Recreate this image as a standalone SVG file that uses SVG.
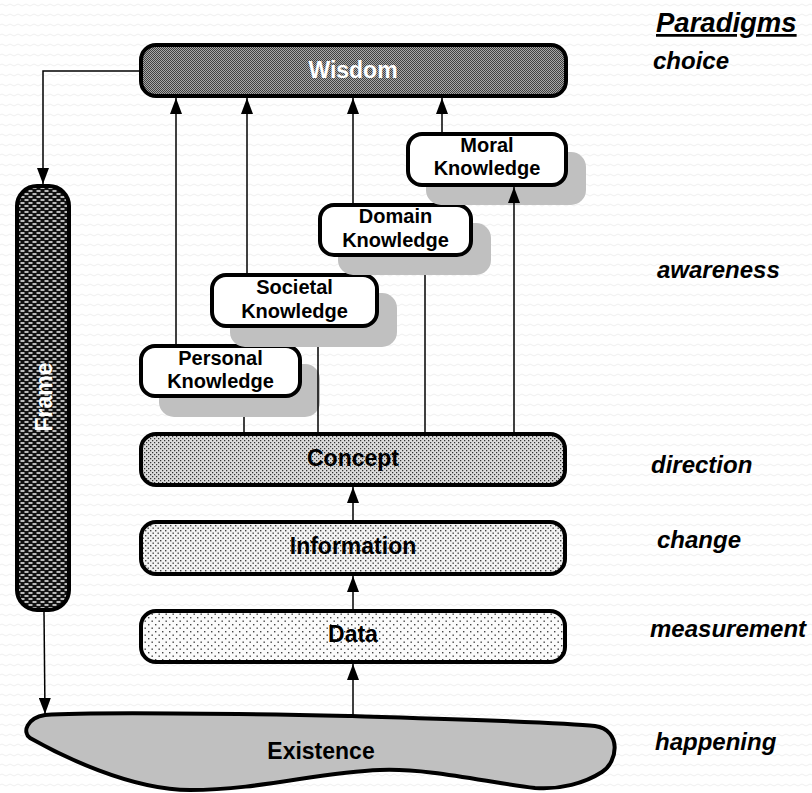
<svg xmlns="http://www.w3.org/2000/svg" width="812" height="793" viewBox="0 0 812 793">
  <style>
    text { font-family: "Liberation Sans", Arial, sans-serif; font-weight: bold; }
    .box { stroke: #000; stroke-width: 4; }
    .kbox { fill: #fff; stroke: #000; stroke-width: 4; }
    .shadow { fill: #c0c0c0; stroke: none; }
    .big { font-size: 23px; text-anchor: middle; }
    .k { font-size: 20px; text-anchor: middle; fill: #000; }
    .para { font-size: 24px; font-style: italic; fill: #000; }
    .conn { fill: none; stroke: #000; stroke-width: 1.5; }
  </style>
  <defs>
    <marker id="arr" markerUnits="userSpaceOnUse" markerWidth="16" markerHeight="12" refX="16" refY="6" orient="auto">
      <path d="M0,0 L16,6 L0,12 Z" fill="#000"/>
    </marker>
    <pattern id="bg" width="8" height="10" patternUnits="userSpaceOnUse">
      <rect width="8" height="10" fill="#fff"/>
      <path d="M0 5 Q2 3 4 5 T8 5" fill="none" stroke="#efefef" stroke-width="1"/>
    </pattern>
    <pattern id="pWisdom" width="2" height="2" patternUnits="userSpaceOnUse">
      <rect width="2" height="2" fill="#a8a8a8"/>
      <rect width="1" height="1" fill="#404040"/>
      <rect x="1" y="1" width="1" height="1" fill="#404040"/>
    </pattern>
    <pattern id="pFrame" width="8" height="6" patternUnits="userSpaceOnUse">
      <rect width="8" height="6" fill="#111"/>
      <rect x="0.5" y="1" width="4" height="2" fill="#bbb"/>
      <rect x="4.5" y="4" width="3.5" height="2" fill="#bbb"/>
      <rect x="0" y="4" width="0.5" height="2" fill="#bbb"/>
    </pattern>
    <pattern id="pConcept" width="4" height="4" patternUnits="userSpaceOnUse">
      <rect width="4" height="4" fill="#dcdcdc"/>
      <rect x="0" y="0" width="1.25" height="1.25" fill="#333"/>
      <rect x="2" y="2" width="1.25" height="1.25" fill="#333"/>
    </pattern>
    <pattern id="pInfo" width="5" height="5" patternUnits="userSpaceOnUse">
      <rect width="5" height="5" fill="#f2f2f2"/>
      <rect x="0" y="0" width="1.4" height="1.4" fill="#444"/>
      <rect x="2.5" y="2.5" width="1.4" height="1.4" fill="#444"/>
    </pattern>
    <pattern id="pData" width="7" height="7" patternUnits="userSpaceOnUse">
      <rect width="7" height="7" fill="#fbfbfb"/>
      <rect x="1" y="1" width="1.4" height="1.4" fill="#444"/>
      <rect x="4.5" y="4.5" width="1.4" height="1.4" fill="#444"/>
    </pattern>
  </defs>

  <rect width="812" height="793" fill="url(#bg)"/>

  <g id="wisdom">
    <rect class="box" x="141" y="45" width="425" height="51" rx="15" fill="url(#pWisdom)"/>
    <text class="big" x="353" y="78" fill="#fff">Wisdom</text>
  </g>

  <g id="frame">
    <rect class="box" x="17" y="186" width="52" height="424" rx="20" fill="url(#pFrame)"/>
    <text class="big" x="0" y="0" fill="#fff" transform="translate(52,397) rotate(-90)">Frame</text>
  </g>

  <g id="personal-knowledge">
    <rect class="shadow" x="159" y="364" width="161" height="53" rx="15"/>
    <rect class="kbox" x="141" y="346" width="159" height="50" rx="14"/>
    <text class="k" x="220.5" y="365">Personal</text>
    <text class="k" x="220.5" y="388">Knowledge</text>
  </g>

  <g id="societal-knowledge">
    <rect class="shadow" x="230" y="293" width="167" height="54" rx="15"/>
    <rect class="kbox" x="212" y="275" width="165" height="51" rx="14"/>
    <text class="k" x="294.5" y="294">Societal</text>
    <text class="k" x="294.5" y="318">Knowledge</text>
  </g>

  <g id="domain-knowledge">
    <rect class="shadow" x="338" y="223" width="153" height="52" rx="15"/>
    <rect class="kbox" x="320" y="205" width="151" height="50" rx="14"/>
    <text class="k" x="395.5" y="223">Domain</text>
    <text class="k" x="395.5" y="247">Knowledge</text>
  </g>

  <g id="moral-knowledge">
    <rect class="shadow" x="426" y="152" width="160" height="53" rx="15"/>
    <rect class="kbox" x="408" y="134" width="158" height="51" rx="14"/>
    <text class="k" x="487" y="152">Moral</text>
    <text class="k" x="487" y="175">Knowledge</text>
  </g>

  <g id="concept">
    <rect class="box" x="141" y="434" width="424" height="51" rx="15" fill="url(#pConcept)"/>
    <text class="big" x="353" y="466" fill="#000">Concept</text>
  </g>

  <g id="information">
    <rect class="box" x="141" y="522" width="424" height="52" rx="15" fill="url(#pInfo)"/>
    <text class="big" x="353" y="554" fill="#000">Information</text>
  </g>

  <g id="data">
    <rect class="box" x="141" y="611" width="424" height="51" rx="15" fill="url(#pData)"/>
    <text class="big" x="353" y="642" fill="#000">Data</text>
  </g>

  <g id="existence">
    <path d="M45 715 C100 711 250 714 352 716 C450 719 560 722 595 726 C622 730 618 762 602 772 C585 783 560 790 535 788 C490 783 430 768 380 770 C320 772 260 790 190 790 C130 790 60 755 30 738 C22 732 27 718 45 715 Z" fill="#c0c0c0" stroke="#000" stroke-width="4"/>
    <text class="big" x="321" y="759" fill="#000">Existence</text>
  </g>

  <g id="connectors">
    <polyline class="conn" points="139,71 43,71 43,184" marker-end="url(#arr)"/>
    <line class="conn" x1="44" y1="612" x2="45" y2="714" marker-end="url(#arr)"/>
    <line class="conn" x1="176" y1="344" x2="176" y2="98" marker-end="url(#arr)"/>
    <line class="conn" x1="247" y1="273" x2="247" y2="98" marker-end="url(#arr)"/>
    <line class="conn" x1="353" y1="203" x2="353" y2="98" marker-end="url(#arr)"/>
    <line class="conn" x1="442" y1="132" x2="442" y2="98" marker-end="url(#arr)"/>
    <line class="conn" x1="244" y1="432" x2="244" y2="417"/>
    <line class="conn" x1="318" y1="432" x2="318" y2="347"/>
    <line class="conn" x1="425" y1="432" x2="425" y2="275"/>
    <line class="conn" x1="514" y1="432" x2="514" y2="187" marker-end="url(#arr)"/>
    <line class="conn" x1="353" y1="520" x2="353" y2="487" marker-end="url(#arr)"/>
    <line class="conn" x1="353" y1="609" x2="353" y2="576" marker-end="url(#arr)"/>
    <line class="conn" x1="353" y1="715" x2="353" y2="664" marker-end="url(#arr)"/>
  </g>

  <g id="paradigms">
    <text class="para" x="656" y="32" style="font-size:27.5px" text-decoration="underline">Paradigms</text>
    <text class="para" x="653" y="69">choice</text>
    <text class="para" x="657" y="278">awareness</text>
    <text class="para" x="651" y="473">direction</text>
    <text class="para" x="657" y="548">change</text>
    <text class="para" x="650" y="637">measurement</text>
    <text class="para" x="655" y="750">happening</text>
  </g>
</svg>
